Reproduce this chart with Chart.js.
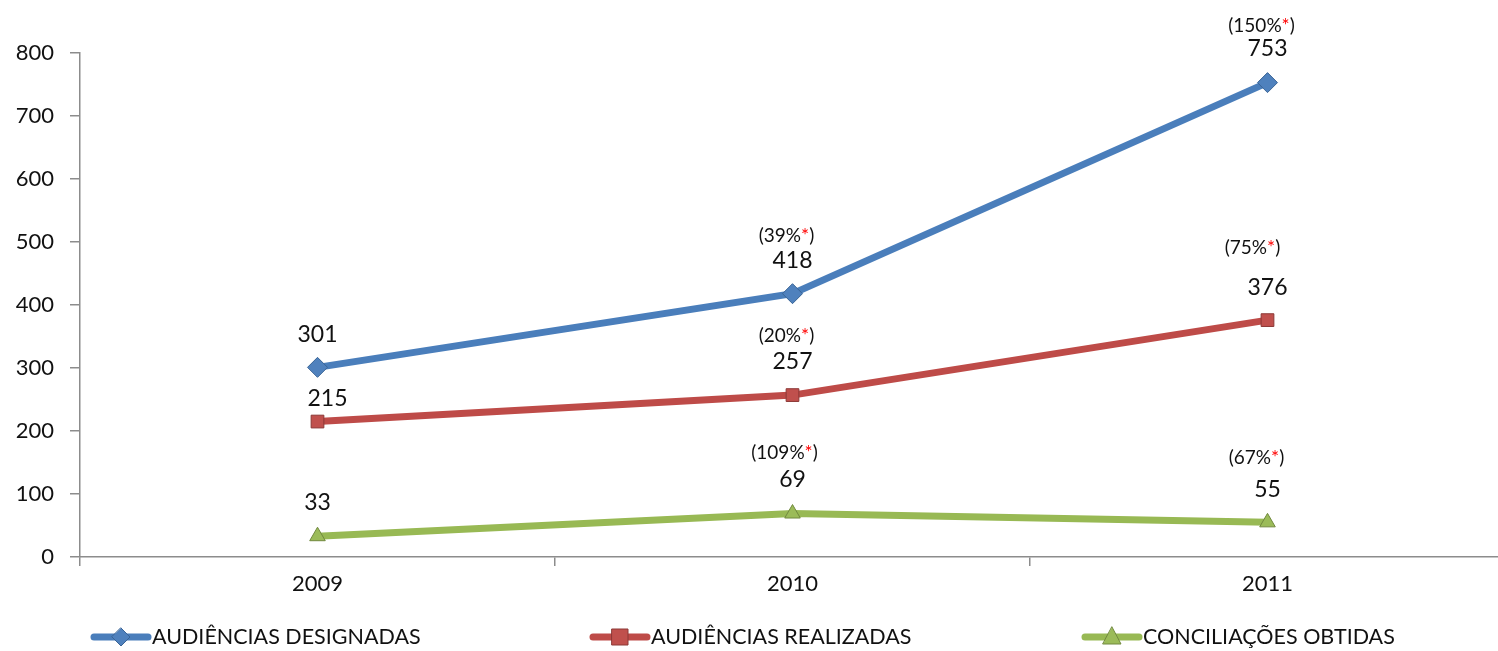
<!DOCTYPE html>
<html>
<head>
<meta charset="utf-8">
<script src="https://cdn.jsdelivr.net/npm/chart.js@4.4.1/dist/chart.umd.min.js"></script>
<style>
  html, body { margin: 0; padding: 0; background: #fff; overflow: hidden; }
  #wrap { width: 1516px; height: 651px; }
</style>
</head>
<body>
<div id="wrap"><canvas id="chart" width="1516" height="651"></canvas></div>
<script>
/* global Chart */

const YEARS = ['2009', '2010', '2011'];
const DESIGNADAS = [301, 418, 753];
const REALIZADAS = [215, 257, 376];
const CONCILIACOES = [33, 69, 55];

/* growth vs. previous year, shown as "(x%*)" above the value */
const GROWTH_DESIGNADAS = [null, '39%', '150%'];
const GROWTH_REALIZADAS = [null, '20%', '75%'];
const GROWTH_CONCILIACOES = [null, '109%', '67%'];

const SERIES_NAMES = ['AUDIÊNCIAS DESIGNADAS', 'AUDIÊNCIAS REALIZADAS', 'CONCILIAÇÕES OBTIDAS'];

const FONT = 'Lato, "Open Sans", sans-serif';
const COLORS = ['#4a7ebb', '#be4b48', '#98b954'];
const MARKER_FILL = ['#4f81bd', '#c0504d', '#9bbb59'];
const MARKER_EDGE = ['#3a6496', '#8c3836', '#71893f'];

/* per-series label offsets (dx, dy of value label; dx, dy of growth label) */
const LABEL_POS = [
  { dx: [0, 0, 0], dy: [-33, -33, -34], gdx: [0, -6, -6], gdy: [-58, -58, -57] },
  { dx: [10, 0, 0], dy: [-23, -34, -33], gdx: [0, -6, -15], gdy: [0, -59, -72] },
  { dx: [0, 0, 0], dy: [-34, -34, -33], gdx: [0, -8, -11], gdy: [0, -61, -64] },
];
const GROWTH = [GROWTH_DESIGNADAS, GROWTH_REALIZADAS, GROWTH_CONCILIACOES];

const labelsPlugin = {
  id: 'valueLabels',
  afterDatasetsDraw(chart) {
    const ctx = chart.ctx;
    ctx.save();
    ctx.textBaseline = 'middle';
    chart.data.datasets.forEach((ds, di) => {
      const meta = chart.getDatasetMeta(di);
      const pos = LABEL_POS[di];
      meta.data.forEach((pt, i) => {
        ctx.textAlign = 'center';
        ctx.fillStyle = '#111';
        ctx.font = '23px ' + FONT;
        ctx.fillText(String(ds.data[i]), pt.x + pos.dx[i], pt.y + pos.dy[i]);

        const g = GROWTH[di][i];
        if (!g) return;
        ctx.font = '19px ' + FONT;
        const a = '(' + g, star = '*', b = ')';
        const wa = ctx.measureText(a).width;
        const ws = ctx.measureText(star).width;
        const wb = ctx.measureText(b).width;
        const x = pt.x + pos.gdx[i] - (wa + ws + wb) / 2;
        const y = pt.y + pos.gdy[i];
        ctx.textAlign = 'left';
        ctx.fillStyle = '#111';
        ctx.fillText(a, x, y);
        ctx.fillStyle = '#ff0000';
        ctx.fillText(star, x + wa, y);
        ctx.fillStyle = '#111';
        ctx.fillText(b, x + wa + ws, y);
      });
    });
    ctx.restore();
  },
};

function drawMarker(ctx, type, x, y, di) {
  ctx.fillStyle = MARKER_FILL[di];
  ctx.strokeStyle = MARKER_EDGE[di];
  ctx.lineWidth = 1;
  ctx.beginPath();
  if (type === 'diamond') {
    ctx.moveTo(x, y - 9); ctx.lineTo(x + 9, y); ctx.lineTo(x, y + 9); ctx.lineTo(x - 9, y);
  } else if (type === 'square') {
    ctx.rect(x - 8, y - 8, 16, 16);
  } else {
    ctx.moveTo(x, y - 10); ctx.lineTo(x + 9, y + 7); ctx.lineTo(x - 9, y + 7);
  }
  ctx.closePath();
  ctx.fill();
  ctx.stroke();
}

const legendPlugin = {
  id: 'bottomLegend',
  afterDraw(chart) {
    const ctx = chart.ctx;
    const starts = [92, 591, 1083];
    const types = ['diamond', 'square', 'triangle'];
    const y = 637;
    ctx.save();
    starts.forEach((x0, di) => {
      ctx.strokeStyle = COLORS[di];
      ctx.lineWidth = 7;
      ctx.lineCap = 'round';
      ctx.beginPath();
      ctx.moveTo(x0 + 2, y);
      ctx.lineTo(x0 + 56, y);
      ctx.stroke();
      drawMarker(ctx, types[di], x0 + 29, y, di);
      ctx.fillStyle = '#111';
      ctx.font = '21.5px ' + FONT;
      ctx.textAlign = 'left';
      ctx.textBaseline = 'middle';
      ctx.fillText(SERIES_NAMES[di], x0 + 60, y);
    });
    ctx.restore();
  },
};

function dataset(label, data, di, style) {
  return {
    label,
    data,
    borderColor: COLORS[di],
    borderWidth: 7,
    pointStyle: style,
    pointRadius: style === 'rectRot' ? 10 : 9,
    pointBackgroundColor: MARKER_FILL[di],
    pointBorderColor: MARKER_EDGE[di],
    pointBorderWidth: 1,
    tension: 0,
  };
}

new Chart(document.getElementById('chart'), {
  type: 'line',
  data: {
    labels: YEARS,
    datasets: [
      dataset(SERIES_NAMES[0], DESIGNADAS, 0, 'rectRot'),
      dataset(SERIES_NAMES[1], REALIZADAS, 1, 'rect'),
      dataset(SERIES_NAMES[2], CONCILIACOES, 2, 'triangle'),
    ],
  },
  options: {
    responsive: false,
    animation: false,
    layout: { padding: { top: 53, left: 0, right: 0, bottom: 44 } },
    plugins: { legend: { display: false }, tooltip: { enabled: false } },
    scales: {
      x: {
        offset: true,
        grid: { offset: true, drawOnChartArea: false, color: '#8c8c8c', tickLength: 9, lineWidth: 1.5 },
        border: { color: '#8c8c8c', width: 1.5 },
        ticks: { color: '#111', font: { size: 22, family: FONT }, padding: 5 },
        afterFit(scale) { scale.height = 50; },
      },
      y: {
        min: 0,
        max: 800,
        ticks: { stepSize: 100, color: '#111', font: { size: 22, family: FONT }, padding: 16 },
        grid: { drawOnChartArea: false, color: '#8c8c8c', tickLength: 10, lineWidth: 1.5 },
        border: { color: '#8c8c8c', width: 1.5 },
        afterFit(scale) { scale.width = 80; },
      },
    },
  },
  plugins: [labelsPlugin, legendPlugin],
});
</script>
</body>
</html>
